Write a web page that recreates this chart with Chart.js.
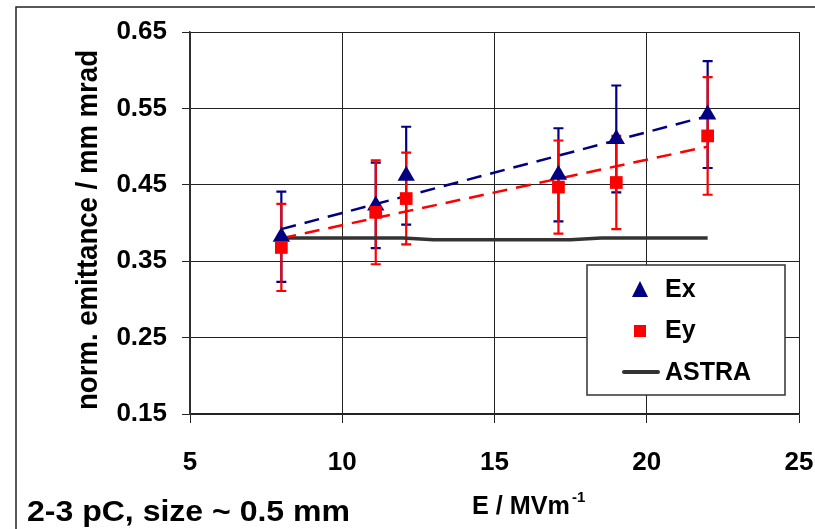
<!DOCTYPE html>
<html>
<head>
<meta charset="utf-8">
<script src="https://cdn.jsdelivr.net/npm/chart.js@4.4.1/dist/chart.umd.min.js"></script>
<style>
  html, body { margin: 0; padding: 0; background: #fff; }
  #wrap { width: 815px; height: 529px; }
</style>
</head>
<body>
<div id="wrap"><canvas id="emitChart" width="815" height="529"></canvas></div>
<script>
// field gradient, MV/m
const energy = [8.0, 11.1, 12.1, 17.1, 19.0, 22.0];
// measured emittance, mm mrad
const emitX = [0.382, 0.423, 0.462, 0.463, 0.510, 0.542];
const errX  = [0.059, 0.056, 0.064, 0.061, 0.070, 0.070];
const emitY = [0.368, 0.414, 0.432, 0.447, 0.453, 0.514];
const errY  = [0.057, 0.068, 0.060, 0.061, 0.061, 0.077];
// linear trend lines
const fitE = [8, 22];
const fitX = [0.392, 0.540];
const fitY = [0.380, 0.500];
// ASTRA simulation
const astraE    = [8, 12, 13, 17.5, 18.5, 22];
const astraEmit = [0.3805, 0.3805, 0.378, 0.378, 0.3803, 0.3803];
// axis ticks
const xTicks = [5, 10, 15, 20, 25];
const yTicks = [0.15, 0.25, 0.35, 0.45, 0.55, 0.65];

const NAVY = '#000080';
const RED = '#ff0000';
const ASTRA_COL = '#333333';
const FONT = '"Liberation Sans", Arial, sans-serif';

function pts(xs, ys) {
    return xs.map((x, i) => ({ x: x, y: ys[i] }));
}

// error bars, drawn under the markers
const errorBars = {
    id: 'errorBars',
    beforeDatasetsDraw(chart) {
        const ctx = chart.ctx;
        const xs = chart.scales.x, ys = chart.scales.y;
        const sets = [[emitX, errX, NAVY], [emitY, errY, RED]];
        ctx.save();
        sets.forEach(([vals, errs, col]) => {
            ctx.strokeStyle = col;
            ctx.lineWidth = 2.2;
            vals.forEach((v, i) => {
                const px = xs.getPixelForValue(energy[i]);
                const top = ys.getPixelForValue(v + errs[i]);
                const bot = ys.getPixelForValue(v - errs[i]);
                ctx.beginPath();
                ctx.moveTo(px, top); ctx.lineTo(px, bot);
                ctx.moveTo(px - 5, top); ctx.lineTo(px + 5, top);
                ctx.moveTo(px - 5, bot); ctx.lineTo(px + 5, bot);
                ctx.stroke();
            });
        });
        ctx.restore();
    }
};

// text drawn to a fixed width (the original fonts are a bit narrower or wider)
function fitText(ctx, text, x, y, width) {
    const w = ctx.measureText(text).width;
    ctx.save();
    ctx.translate(x, y);
    ctx.scale(width / w, 1);
    ctx.fillText(text, 0, 0);
    ctx.restore();
}

// frame, axis titles, legend box and note
const decorations = {
    id: 'decorations',
    afterDraw(chart) {
        const ctx = chart.ctx;
        const area = chart.chartArea;
        ctx.save();

        // outer frame (runs off the right and bottom edge)
        ctx.strokeStyle = '#222';
        ctx.lineWidth = 1.5;
        ctx.strokeRect(16, 7, 900, 600);

        // y title
        ctx.fillStyle = '#000';
        ctx.save();
        ctx.translate(97, (area.top + area.bottom) / 2 + 7);
        ctx.rotate(-Math.PI / 2);
        ctx.font = 'bold 30px ' + FONT;
        ctx.textAlign = 'left';
        ctx.textBaseline = 'alphabetic';
        fitText(ctx, 'norm. emittance / mm mrad', -180, 0, 360);
        ctx.restore();

        // x title with superscript
        ctx.font = 'bold 26px ' + FONT;
        ctx.textAlign = 'left';
        ctx.textBaseline = 'alphabetic';
        fitText(ctx, 'E / MVm', 472, 514, 98);
        ctx.font = 'bold 15px ' + FONT;
        ctx.fillText('-1', 572, 502);

        // note bottom left
        ctx.font = 'bold 29px ' + FONT;
        fitText(ctx, '2-3 pC, size ~ 0.5 mm', 27, 521, 323);

        // legend
        ctx.fillStyle = '#fff';
        ctx.fillRect(587, 265, 198, 130);
        ctx.strokeStyle = '#333';
        ctx.lineWidth = 1.5;
        ctx.strokeRect(587, 265, 198, 130);

        ctx.fillStyle = NAVY;
        ctx.beginPath();
        ctx.moveTo(640, 281);
        ctx.lineTo(648, 297);
        ctx.lineTo(632, 297);
        ctx.closePath();
        ctx.fill();

        ctx.fillStyle = RED;
        ctx.fillRect(634, 325, 12, 12);

        ctx.strokeStyle = ASTRA_COL;
        ctx.lineWidth = 4;
        ctx.lineCap = 'round';
        ctx.beginPath();
        ctx.moveTo(624, 372);
        ctx.lineTo(658, 372);
        ctx.stroke();

        ctx.fillStyle = '#000';
        ctx.font = 'bold 25px ' + FONT;
        ctx.textBaseline = 'middle';
        ctx.fillText('Ex', 665, 290);
        ctx.fillText('Ey', 665, 331);
        ctx.fillText('ASTRA', 665, 373);

        ctx.restore();
    }
};

new Chart(document.getElementById('emitChart').getContext('2d'), {
    type: 'scatter',
    data: {
        datasets: [
            {
                label: 'Ey',
                data: pts(energy, emitY),
                pointStyle: 'rect',
                pointRadius: 9,
                pointBackgroundColor: RED,
                pointBorderColor: RED,
                pointBorderWidth: 0,
                showLine: false
            },
            {
                label: 'Ex',
                data: pts(energy, emitX),
                pointStyle: 'triangle',
                pointRadius: 10,
                pointBackgroundColor: NAVY,
                pointBorderColor: NAVY,
                pointBorderWidth: 0,
                showLine: false
            },
            {
                label: 'Ex fit',
                data: pts(fitE, fitX),
                showLine: true,
                borderColor: NAVY,
                borderWidth: 2.5,
                borderDash: [15, 9],
                pointRadius: 0
            },
            {
                label: 'Ey fit',
                data: pts(fitE, fitY),
                showLine: true,
                borderColor: RED,
                borderWidth: 2.5,
                borderDash: [15, 9],
                pointRadius: 0
            },
            {
                label: 'ASTRA',
                data: pts(astraE, astraEmit),
                showLine: true,
                borderColor: ASTRA_COL,
                borderWidth: 3.5,
                pointRadius: 0,
                tension: 0
            }
        ]
    },
    options: {
        responsive: false,
        animation: false,
        layout: {
            padding: { left: 0, top: 32, right: 16, bottom: 0 }
        },
        plugins: {
            legend: { display: false },
            tooltip: { enabled: false }
        },
        scales: {
            x: {
                type: 'linear',
                min: 5,
                max: 25,
                afterBuildTicks: (scale) => {
                    scale.ticks = xTicks.map(v => ({ value: v }));
                },
                afterFit: (scale) => {
                    scale.height = 115;
                    scale.paddingLeft = 0;
                    scale.paddingRight = 0;
                },
                grid: {
                    color: '#222',
                    lineWidth: 1,
                    tickLength: 9
                },
                border: { color: '#222', width: 1.5 },
                ticks: {
                    color: '#000',
                    padding: 24,
                    font: { family: FONT, size: 26, weight: 'bold' },
                    maxRotation: 0
                }
            },
            y: {
                type: 'linear',
                min: 0.15,
                max: 0.65,
                afterBuildTicks: (scale) => {
                    scale.ticks = yTicks.map(v => ({ value: v }));
                },
                afterFit: (scale) => {
                    scale.width = 190;
                    scale.paddingTop = 0;
                    scale.paddingBottom = 0;
                },
                grid: {
                    color: '#222',
                    lineWidth: 1,
                    tickLength: 8
                },
                border: { color: '#333', width: 1.5 },
                ticks: {
                    color: '#000',
                    padding: 15,
                    font: { family: FONT, size: 26, weight: 'bold' },
                    callback: (v) => Number(v).toFixed(2)
                }
            }
        }
    },
    plugins: [errorBars, decorations]
});
</script>
</body>
</html>
